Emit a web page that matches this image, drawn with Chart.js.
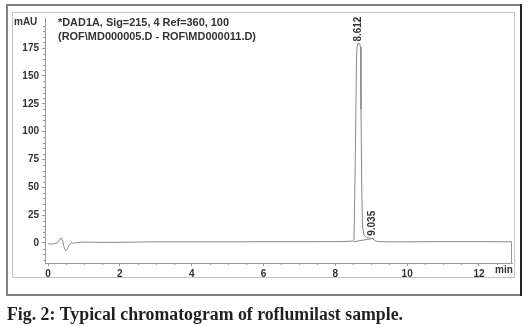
<!DOCTYPE html>
<html>
<head>
<meta charset="utf-8">
<script src="https://cdn.jsdelivr.net/npm/chart.js@4.4.1/dist/chart.umd.min.js"></script>
<style>
  body { margin: 0; background: #fff; }
  #wrap { width: 528px; height: 326px; position: relative; }
</style>
</head>
<body>
<div id="wrap"><canvas id="chromChart" width="528" height="326"></canvas></div>
<script>
// retention time (min) and detector signal (mAU)
const times = [0, 0.1, 0.2, 0.28, 0.33, 0.37, 0.41, 0.45, 0.49, 0.53, 0.58, 0.64, 0.72, 0.85, 1.0, 1.3, 1.8, 2.5, 3.0, 4.0, 5.0, 6.0, 7.0, 8.0, 8.3, 8.47, 8.52, 8.55, 8.59, 8.605, 8.62, 8.68, 8.7, 8.715, 8.74, 8.76, 8.8, 8.87, 8.95, 9.0, 9.035, 9.08, 9.14, 9.22, 9.5, 10.0, 11.0, 12.0, 12.92];
const signal = [-0.8, -1, -0.6, 0.5, 3.5, 4.5, 1.5, -4, -7, -6, -2.5, 0.3, -0.2, 0.4, 0.8, 0.6, 0.5, 0.8, 1, 1, 1, 1.1, 1.1, 1.2, 1.4, 1.6, 3, 60, 165, 177, 179, 179, 176, 120, 40, 14, 7, 5, 4.2, 4, 4.3, 2.6, 1.6, 1.2, 1.0, 1.0, 1.2, 1.2, 1.0];

// integration baseline drawn under the main peak
const baseTimes = [8.5, 9.07];
const baseSignal = [1.0, 4.2];

// labelled peaks
const peakTimes = [8.64, 9.035];
const peakHeights = [179, 4.6];
const peakLabels = ['8.612', '9.035'];

const xTickLabels = [0, 2, 4, 6, 8, 10, 12];
const yTickLabels = [0, 25, 50, 75, 100, 125, 150, 175];

const headerLines = ['*DAD1A, Sig=215, 4 Ref=360, 100', '(ROF\\MD000005.D - ROF\\MD000011.D)'];
const caption = 'Fig. 2: Typical chromatogram of roflumilast sample.';

const traceData = times.map((t, i) => ({ x: t, y: signal[i] }));
const baseData = baseTimes.map((t, i) => ({ x: t, y: baseSignal[i] }));

const labelFont = 'bold 10px Arial, "Liberation Sans", sans-serif';

// draw text squeezed or stretched to a given width
function fillFit(c, text, x, y, width) {
  const w = c.measureText(text).width;
  c.save();
  c.translate(x, y);
  c.scale(width / w, 1);
  c.fillText(text, 0, 0);
  c.restore();
}

// frame, header text, peak labels and minor ticks
const decorations = {
  id: 'decorations',
  beforeDraw(chart) {
    const c = chart.ctx;
    c.save();
    c.fillStyle = '#fff';
    c.fillRect(0, 0, chart.width, chart.height);
    // outer frame
    c.strokeStyle = '#808080';
    c.lineWidth = 2;
    c.strokeRect(7, 5, 514, 290);
    c.strokeStyle = '#222';
    c.beginPath();
    c.moveTo(521, 4); c.lineTo(521, 296);
    c.stroke();
    // inner box
    c.strokeStyle = '#c4c4c4';
    c.lineWidth = 1;
    c.strokeRect(12.5, 12.5, 502, 265);
    c.restore();
  },
  afterDraw(chart) {
    const c = chart.ctx;
    const xs = chart.scales.x, ys = chart.scales.y;
    const area = chart.chartArea;
    c.save();
    c.strokeStyle = '#999';
    c.lineWidth = 1;
    // minor ticks on x
    for (let v = 0.5; v <= 12.5; v += 0.5) {
      if (v % 2 === 0) continue;
      const px = Math.round(xs.getPixelForValue(v)) + 0.5;
      c.beginPath();
      c.moveTo(px, area.bottom); c.lineTo(px, area.bottom + 2);
      c.stroke();
    }
    // minor ticks on y
    for (let v = -15; v <= 200; v += 5) {
      if (v % 25 === 0) continue;
      const py = Math.round(ys.getPixelForValue(v)) + 0.5;
      c.beginPath();
      c.moveTo(area.left - 2, py); c.lineTo(area.left, py);
      c.stroke();
    }
    // right edge of the trace box
    const rx = Math.round(area.right) - 0.5;
    c.beginPath();
    c.moveTo(rx, ys.getPixelForValue(1)); c.lineTo(rx, area.bottom);
    c.stroke();

    c.fillStyle = '#333';
    c.font = labelFont;
    c.textBaseline = 'middle';
    c.textAlign = 'left';
    c.fillText('mAU', 14, 22);
    c.fillText('min', 495, 270);
    fillFit(c, headerLines[0], 58, 23.5, 171);
    fillFit(c, headerLines[1], 58, 37.5, 198);

    // rotated peak labels
    peakTimes.forEach((t, i) => {
      const px = xs.getPixelForValue(t);
      const py = ys.getPixelForValue(peakHeights[i]) - 2;
      c.save();
      c.translate(px, py);
      c.rotate(-Math.PI / 2);
      c.textAlign = 'left';
      c.textBaseline = 'middle';
      c.fillText(peakLabels[i], 0, 0);
      c.restore();
    });

    // caption
    c.fillStyle = '#231f20';
    c.font = 'bold 18px "Liberation Serif", "DejaVu Serif", serif';
    c.textBaseline = 'alphabetic';
    fillFit(c, caption, 7, 320, 396);
    c.restore();
  }
};

new Chart(document.getElementById('chromChart').getContext('2d'), {
  type: 'line',
  data: {
    datasets: [{
      label: 'Signal',
      data: traceData,
      borderColor: '#8a8a8a',
      borderWidth: 1,
      pointRadius: 0,
      tension: 0,
      fill: false
    }, {
      label: 'Baseline',
      data: baseData,
      borderColor: '#8a8a8a',
      borderWidth: 1,
      pointRadius: 0,
      tension: 0,
      fill: false
    }]
  },
  options: {
    responsive: false,
    animation: false,
    layout: { padding: { left: 0, top: 18, right: 16, bottom: 0 } },
    plugins: {
      legend: { display: false },
      tooltip: { enabled: false }
    },
    scales: {
      x: {
        type: 'linear',
        min: -0.084,
        max: 12.92,
        afterBuildTicks: (scale) => { scale.ticks = xTickLabels.map(v => ({ value: v })); },
        afterFit: (scale) => { scale.height = 63; },
        ticks: { color: '#333', font: { family: 'Arial', size: 10, weight: 'bold' }, padding: 2, maxRotation: 0 },
        grid: { drawOnChartArea: false, tickLength: 3, color: '#999' },
        border: { color: '#999' }
      },
      y: {
        min: -18,
        max: 202,
        afterBuildTicks: (scale) => { scale.ticks = yTickLabels.map(v => ({ value: v })); },
        afterFit: (scale) => { scale.width = 45; },
        ticks: { color: '#333', font: { family: 'Arial', size: 10, weight: 'bold' }, padding: 3 },
        grid: { drawOnChartArea: false, tickLength: 3, color: '#999' },
        border: { color: '#999' }
      }
    }
  },
  plugins: [decorations]
});
</script>
</body>
</html>
